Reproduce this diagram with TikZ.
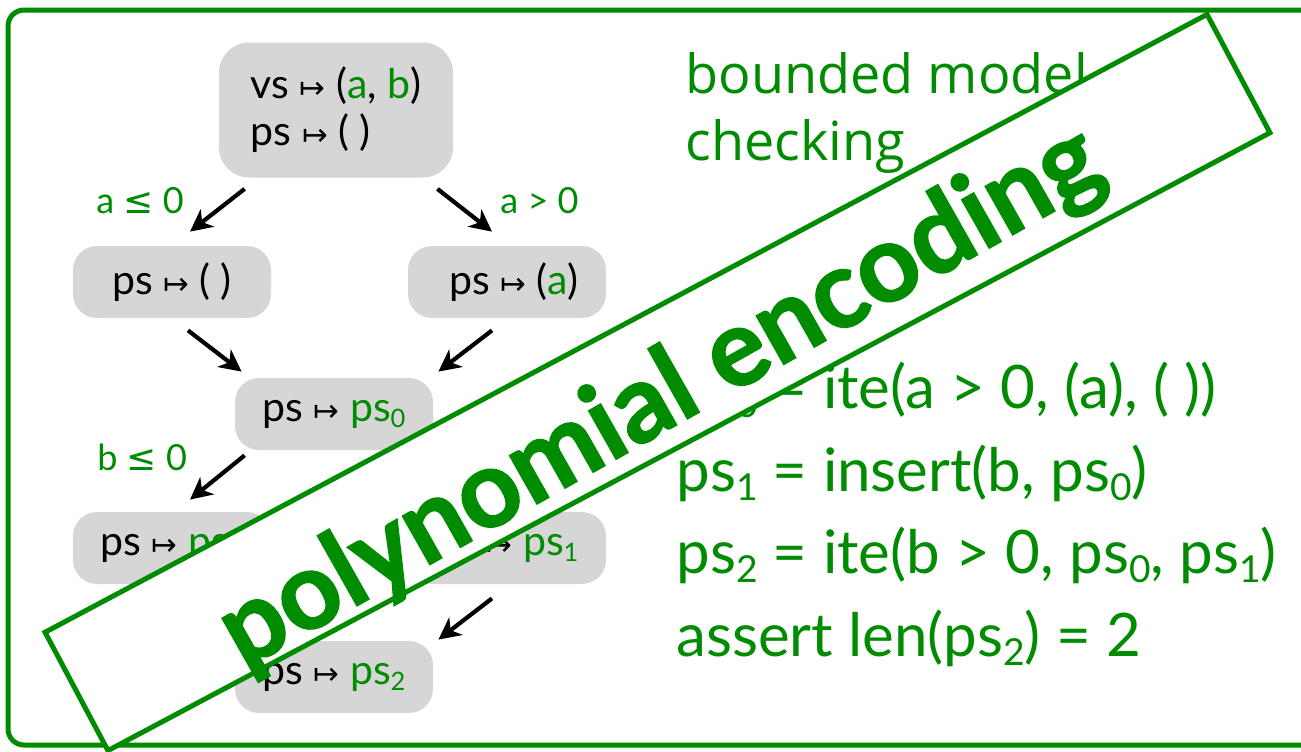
\documentclass[tikz,border=0pt]{standalone}
\usepackage{graphicx}
\usepackage{fontspec}
\setmainfont{Lato}[BoldFeatures={FakeBold=1.6}]
\newfontfamily\headfont{Open Sans}
\newfontfamily\symfont{DejaVu Sans}
\usetikzlibrary{arrows.meta}
\definecolor{ink}{RGB}{0,140,0}
\definecolor{cellgray}{RGB}{214,214,214}
\newcommand\mapsym{{\symfont\scalebox{0.75}{↦}}}
\newcommand\lesym{{\symfont ≤}}
\newcommand\sub[1]{\raisebox{-0.15em}{\scalebox{0.62}{#1}}}
\newcommand\gr[1]{\textcolor{ink}{#1}}
\begin{document}
\begin{tikzpicture}[x=0.5pt,y=-0.5pt,
  state/.style={fill=cellgray, rounded corners=12pt, minimum width=99pt,
    minimum height=36pt, inner sep=0pt, font=\fontsize{20.5}{23.5}\selectfont},
  flow/.style={-{Stealth[length=11pt,width=11pt,inset=3.3pt]}, line width=2.1pt},
  cond/.style={text=ink, font=\fontsize{18}{21}\selectfont, inner sep=0pt, anchor=base west},
  eqn/.style={text=ink, font=\fontsize{30}{36}\selectfont, inner sep=0pt, anchor=base west},
]
\clip (0,0) rectangle (1301,751);
\draw[ink, line width=2.5pt, rounded corners=8pt] (8,10) rectangle (1340,745);

% symbolic execution tree
\node[state, minimum width=117pt, minimum height=67.5pt, rounded corners=15pt, align=left]
  (init) at (336,110) {vs \mapsym{} (\gr{a}, \gr{b})\\ps \mapsym{} ( )};
\node[state] (l1) at (172,282) {ps \mapsym{} ( )\hspace{10pt}};
\node[state] (r1) at (507,282) {\hspace{7pt}ps \mapsym{} (\gr{a})};
\node[state] (mid) at (334,414) {ps \mapsym{} \gr{ps\sub{0}}};
\node[state] (l2) at (172,548) {ps \mapsym{} \gr{ps\sub{0}}};
\node[state] (r2) at (507,548) {ps \mapsym{} \gr{ps\sub{1}}};
\node[state] (fin) at (334,677) {ps \mapsym{} \gr{ps\sub{2}}};

\draw[flow] ([shift={(26,11)}]init.south west) -- ([shift={(18,-14)}]l1.north);
\draw[flow] ([shift={(-16,11)}]init.south east) -- ([shift={(-15,-14)}]r1.north);
\draw[flow] ([shift={(16,12)}]l1.south) -- ([shift={(7,-6)}]mid.north west);
\draw[flow] ([shift={(-15,12)}]r1.south) -- ([shift={(5,-6)}]mid.north east);
\draw[flow] ([shift={(10,5)}]mid.south west) -- ([shift={(18,-12)}]l2.north);
\draw[flow] ([shift={(-15,14)}]r2.south) -- ([shift={(5,-1)}]fin.north east);

\node[cond] (c1) at (96,213) {a \lesym{} 0};
\node[cond] (c2) at (500,213) {a > 0};
\node[cond] (c3) at (97,470) {b \lesym{} 0};

% formula side
\node[text=ink, font=\headfont\fontsize{27}{33.5}\selectfont, align=left,
  anchor=base west, inner sep=0pt] (bmc) at (685,160) {bounded model\\checking};
\node[eqn] (e0) at (676,408) {ps\sub{0} = ite(a > 0, (a), ( ))};
\node[eqn] (e1) at (676,491) {ps\sub{1} = insert(b, ps\sub{0})};
\node[eqn] (e2) at (676,573) {ps\sub{2} = ite(b > 0, ps\sub{0}, ps\sub{1})};
\node[eqn] (e3) at (676,656) {assert len(ps\sub{2}) = 2};

% stamp across everything
\node[draw=ink, line width=2.5pt, fill=white, minimum width=658pt, minimum height=67pt,
  inner sep=0pt, rotate=28] (banner) at (657.5,382.5) {};
\node[text=ink, rotate=29.5, inner sep=0pt, font=\bfseries\fontsize{54}{60}\selectfont]
  (stamp) at ([shift={(4,16)}]banner.center) {polynomial encoding};
\end{tikzpicture}
\end{document}
